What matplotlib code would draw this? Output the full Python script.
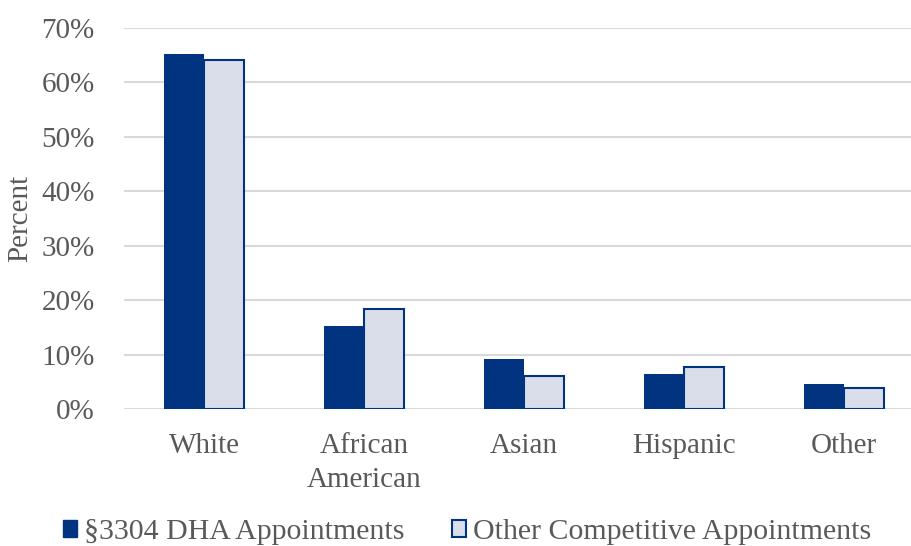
import numpy as np
import matplotlib.pyplot as plt
from matplotlib.patches import Patch

categories = ["White", "African\nAmerican", "Asian", "Hispanic", "Other"]
dha = [65.2, 15.3, 9.2, 6.4, 4.6]
other = [64.1, 18.4, 6.1, 7.7, 3.9]
series_names = ["§3304 DHA Appointments", "Other Competitive Appointments"]

navy = "#003380"
light = "#D9DEEA"
grey_text = "#595959"

plt.rcParams["font.family"] = ["Liberation Serif", "DejaVu Serif"]

fig = plt.figure(figsize=(9.11, 5.46), dpi=100)
ax = fig.add_axes([124 / 911, 1 - 409 / 546, 800 / 911, (409 - 28) / 546])

x = np.arange(len(categories))
w = 0.25
ax.bar(x - w / 2, dha, w, color=navy, zorder=3)
ax.bar(x + w / 2, other, w, color=light, edgecolor=navy, linewidth=1.5, zorder=3)

ax.set_xlim(-0.5, len(categories) - 0.5)
ax.set_ylim(0, 70)
ax.set_yticks(range(0, 71, 10))
ax.set_yticklabels([f"{v}%" for v in range(0, 71, 10)])
ax.set_xticks(x)
ax.set_xticklabels(categories, linespacing=1.4)
ax.yaxis.grid(True, color="#D9D9D9", linewidth=1.5, zorder=0)
ax.tick_params(axis="both", length=0, labelsize=21, labelcolor=grey_text)
ax.tick_params(axis="y", pad=21)
ax.tick_params(axis="x", pad=17)
for s in ax.spines.values():
    s.set_visible(False)
ax.set_ylabel("Percent", fontsize=21, color=grey_text, labelpad=6)

handles = [Patch(facecolor=navy, edgecolor=navy),
           Patch(facecolor=light, edgecolor=navy, linewidth=1.5)]
fig.legend(handles, series_names, loc="lower center", bbox_to_anchor=(0.513, -0.048),
           ncol=2, frameon=False, fontsize=21.5, labelcolor=grey_text,
           handlelength=0.45, handleheight=0.5, handletextpad=0.25, columnspacing=1.6)

fig.savefig("out.png", dpi=100)
